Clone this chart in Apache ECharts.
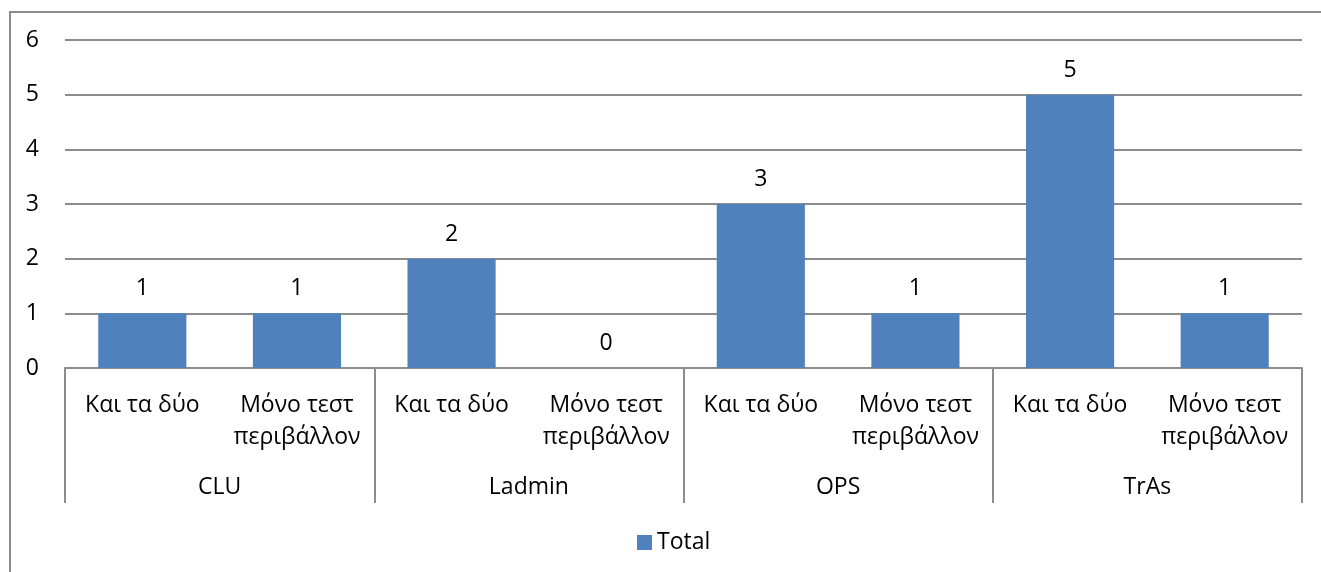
<!DOCTYPE html>
<html>
<head>
<meta charset="utf-8">
<script src="https://cdn.jsdelivr.net/npm/echarts@6/dist/echarts.min.js"></script>
<style>
  html, body { margin: 0; padding: 0; background: #fff; }
  #frame { position: absolute; left: 0; top: 0; width: 1321px; height: 572px; overflow: hidden; }
  #chart { position: absolute; left: 0; top: 0; width: 1321px; height: 572px; }
  #border { position: absolute; left: 9px; top: 11px; width: 1330px; height: 600px;
            border-left: 2px solid #8c8c8c; border-top: 2px solid #8c8c8c; box-sizing: border-box; }
</style>
</head>
<body>
<div id="frame">
  <div id="border"></div>
  <div id="chart"></div>
</div>
<script>
// Sub-categories (one bar each) and their parent groups
const subCategories = [
  'Και τα δύο', 'Μόνο τεστ\nπεριβάλλον',
  'Και τα δύο', 'Μόνο τεστ\nπεριβάλλον',
  'Και τα δύο', 'Μόνο τεστ\nπεριβάλλον',
  'Και τα δύο', 'Μόνο τεστ\nπεριβάλλον'
];
const groups = ['CLU', 'Ladmin', 'OPS', 'TrAs'];
const totalValues = [1, 1, 2, 0, 3, 1, 5, 1];
const yTicks = { min: 0, max: 6, interval: 1 };

const FONT = 'Open Sans';
const FS = 23;
const GRAY = '#8c8c8c';
const BLUE = '#4f81bd';

const chart = echarts.init(document.getElementById('chart'), null, { renderer: 'canvas' });

chart.setOption({
  animation: false,
  textStyle: { fontFamily: FONT, color: '#000' },
  grid: { left: 65, right: 19, top: 40, bottom: 204, containLabel: false },
  legend: {
    bottom: 13,
    left: 632,
    icon: 'rect',
    itemWidth: 15,
    itemHeight: 15,
    itemGap: 6,
    textStyle: { fontFamily: FONT, fontSize: FS, color: '#000' },
    data: ['Total']
  },
  xAxis: [
    {
      type: 'category',
      data: subCategories,
      axisLine: { show: true, lineStyle: { color: GRAY, width: 2 } },
      axisTick: { show: false },
      axisLabel: {
        interval: 0,
        margin: 21,
        fontFamily: FONT,
        fontSize: FS,
        lineHeight: 32,
        color: '#000',
        align: 'center'
      }
    },
    {
      type: 'category',
      data: groups,
      position: 'bottom',
      axisLine: { show: false },
      axisTick: { show: true, length: 135, interval: 0, lineStyle: { color: GRAY, width: 2 } },
      axisLabel: {
        interval: 0,
        margin: 108,
        fontFamily: FONT,
        fontSize: FS,
        color: '#000'
      },
      splitLine: { show: false }
    }
  ],
  yAxis: {
    type: 'value',
    min: yTicks.min,
    max: yTicks.max,
    interval: yTicks.interval,
    axisLine: { show: false },
    axisTick: { show: false },
    axisLabel: { margin: 26, fontFamily: FONT, fontSize: FS, color: '#000' },
    splitLine: { show: true, lineStyle: { color: GRAY, width: 2 } }
  },
  series: [
    {
      name: 'Total',
      type: 'bar',
      xAxisIndex: 0,
      data: totalValues,
      barCategoryGap: '43%',
      itemStyle: { color: BLUE },
      label: {
        show: true,
        position: 'top',
        distance: 13,
        fontFamily: FONT,
        fontSize: FS,
        color: '#000'
      }
    }
  ]
});
</script>
</body>
</html>
